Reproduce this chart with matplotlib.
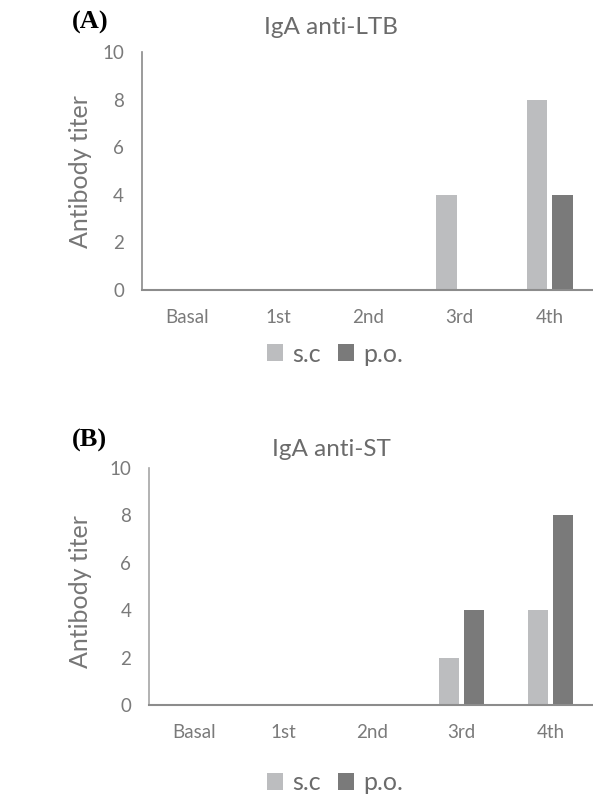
import matplotlib
matplotlib.use("Agg")
import matplotlib.pyplot as plt
import numpy as np
from matplotlib.patches import Patch

categories = ["Basal", "1st", "2nd", "3rd", "4th"]
series_names = ["s.c", "p.o."]
ltb_sc = [0, 0, 0, 4, 8]
ltb_po = [0, 0, 0, 0, 4]
st_sc = [0, 0, 0, 2, 4]
st_po = [0, 0, 0, 4, 8]
yticks = [0, 2, 4, 6, 8, 10]

C_SC = "#BCBDBF"
C_PO = "#7A7A7A"
TXT = "#7A7A7A"

plt.rcParams['font.family'] = ['Lato', 'DejaVu Sans']

W, H = 593, 794
fig = plt.figure(figsize=(W / 100, H / 100), dpi=100)

def px(x0, y0, x1, y1):
    return [x0 / W, 1 - y1 / H, (x1 - x0) / W, (y1 - y0) / H]

panels = [
    dict(rect=px(142, 52, 595, 290), sc=ltb_sc, po=ltb_po, title="IgA anti-LTB",
         title_y=28, label_y=172, legend_y=354, tag="(A)", tag_y=22, lcol="#8A8A8A"),
    dict(rect=px(149.4, 468, 595, 705), sc=st_sc, po=st_po, title="IgA anti-ST",
         title_y=450, label_y=592, legend_y=783, tag="(B)", tag_y=440, lcol="#A6A6A6"),
]

x = np.arange(len(categories))
bw = 0.225
off = 0.14

for p in panels:
    ax = fig.add_axes(p["rect"])
    ax.bar(x - off, p["sc"], bw, color=C_SC, zorder=2)
    ax.bar(x + off, p["po"], bw, color=C_PO, zorder=2)
    ax.set_xlim(-0.5, len(categories) - 0.5)
    ax.set_ylim(0, 10)
    ax.set_yticks(yticks)
    ax.set_xticks(x)
    ax.set_xticklabels(categories)
    ax.tick_params(axis='both', length=0, labelsize=13.5, labelcolor=TXT)
    ax.tick_params(axis='y', pad=13)
    ax.tick_params(axis='x', pad=14)
    for s in ["top", "right"]:
        ax.spines[s].set_visible(False)
    ax.spines["left"].set_color(p["lcol"])
    ax.spines["left"].set_linewidth(1.2)
    ax.spines["bottom"].set_color("#8C8C8C")
    ax.spines["bottom"].set_linewidth(1.5)

    fig.text(331 / W, 1 - p["title_y"] / H, p["title"], ha="center", va="center",
             fontsize=17.5, color="#6B6B6B")
    fig.text(80.5 / W, 1 - p["label_y"] / H, "Antibody titer", ha="center", va="center",
             rotation=90, fontsize=18, color="#767676")
    fig.text(72 / W, 1 - p["tag_y"] / H, p["tag"], ha="left", va="center",
             fontsize=19, fontweight="bold", family="Liberation Serif", color="black")

    handles = [Patch(facecolor=C_SC, edgecolor="none"), Patch(facecolor=C_PO, edgecolor="none")]
    fig.legend(handles, series_names, loc="center", bbox_to_anchor=(335 / W, 1 - p["legend_y"] / H),
               ncol=2, frameon=False, fontsize=18, labelcolor="#6B6B6B",
               handlelength=0.65, handleheight=0.65, handletextpad=0.35, columnspacing=0.7,
               borderpad=0, borderaxespad=0)

fig.savefig("out.png", dpi=100)
